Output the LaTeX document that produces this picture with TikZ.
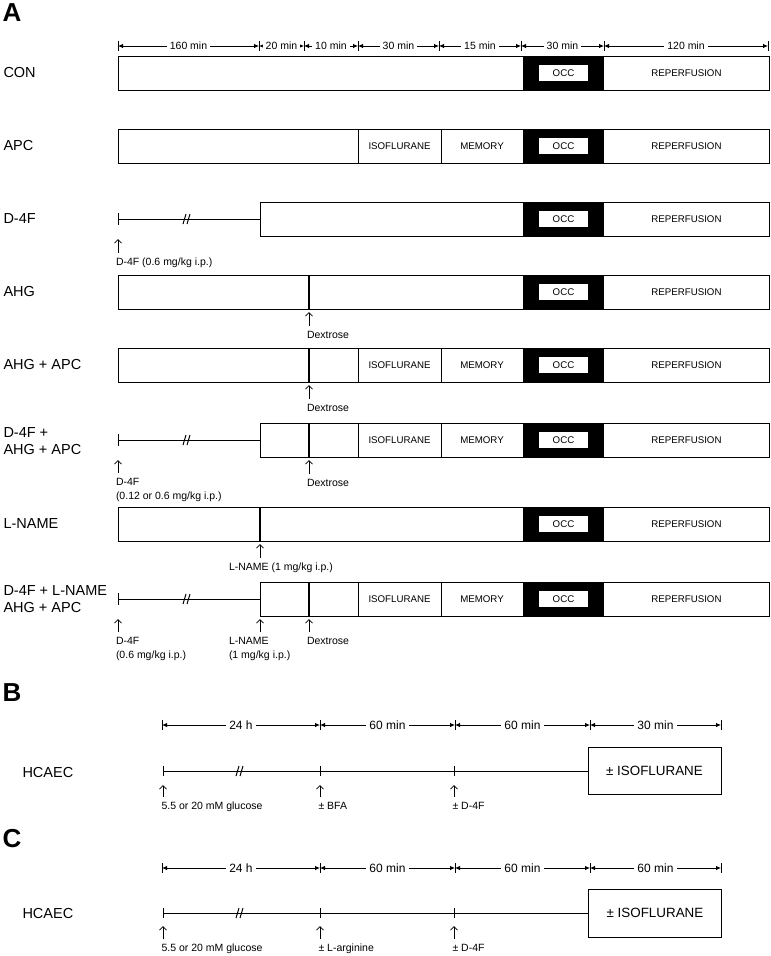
\documentclass[tikz,border=0pt]{standalone}
\usepackage{fontspec}
\setmainfont{Liberation Sans}
\usetikzlibrary{arrows.meta}

\begin{document}
\begin{tikzpicture}[x=1pt,y=-1pt,line width=1pt,
  panel/.style={anchor=west,inner sep=0pt,font=\bfseries\fontsize{26}{26}\selectfont},
  group/.style={anchor=west,align=left,inner sep=0pt,font=\fontsize{14.5}{17}\selectfont},
  phase/.style={inner sep=0pt,font=\fontsize{9.7}{11}\selectfont},
  occ/.style={phase,fill=white,minimum width=49pt,minimum height=15.5pt},
  note/.style={anchor=north west,align=left,inner sep=0pt,outer sep=2pt,font=\fontsize{10.5}{14}\selectfont},
  given/.style={-{Straight Barb[length=3.5pt,width=7pt]},line width=0.8pt,shorten <=3pt},
  span/.style={{Latex[length=5pt,width=4.5pt]}-{Latex[length=5pt,width=4.5pt]},line width=0.8pt},
  spantext/.style={fill=white,inner sep=3pt,font=\fontsize{10.5}{12}\selectfont},
  bigspan/.style={spantext,font=\fontsize{12}{14}\selectfont}]
  \useasboundingbox (0,0) rectangle (771,956);

  % panel A
  \node[panel] (A) at (2,13) {A};
  \foreach \a/\b/\t [count=\i] in {118/259/160 min,259/304/20 min,304/358/10 min,358/439/30 min,
      439/521/15 min,521/604/30 min,604/768/120 min}
    \draw[span] (\a,46) -- node[spantext] (dA\i) {\t} (\b,46);
  \foreach \x in {118,259,304,358,439,521,604,768}
    \draw[line width=0.8pt] (\x,41) -- (\x,51);

  \foreach \t [count=\i] in {56,129,202,275,348,423,507,582} {
    \fill (523,\t) rectangle (604,\t+34);
    \node[occ] (occ\i) at (563.5,\t+17) {OCC};
    \node[phase] (rep\i) at (686.5,\t+17) {REPERFUSION};
  }
  \foreach \t in {56,129,275,348,507}
    \draw (118,\t) rectangle (769,\t+34);
  \foreach \t in {202,423,582} {
    \draw (260,\t) rectangle (769,\t+34);
    \draw (118,\t+17) -- (260,\t+17);
    \draw (118,\t+11) -- (118,\t+23);
    \draw (183,\t+22) -- (186,\t+12) (187,\t+22) -- (190,\t+12);
  }
  \foreach \t [count=\i] in {129,348,423,582} {
    \draw (358,\t) -- (358,\t+34) (441,\t) -- (441,\t+34);
    \node[phase] (iso\i) at (399.5,\t+17) {ISOFLURANE};
    \node[phase] (mem\i) at (482,\t+17) {MEMORY};
  }
  \foreach \t in {275,348,423,582}
    \draw[line width=1.2pt] (309,\t) -- (309,\t+34);
  \draw[line width=1.2pt] (260,507) -- (260,541);

  \node[group] (con) at (3,73) {CON};
  \node[group] (apc) at (3,146) {APC};
  \node[group] (dfour) at (3,219) {D-4F};
  \node[group] (ahg) at (3,292) {AHG};
  \node[group] (ahgapc) at (3,365) {AHG + APC};
  \node[group] (dfourahg) at (3,441) {D-4F +\\AHG + APC};
  \node[group] (lname) at (3,524) {L-NAME};
  \node[group] (all) at (3,599) {D-4F + L-NAME\\AHG + APC};

  % doses
  \coordinate (g3) at (118,239);
  \node[note] (n3) at (114,256) {D-4F (0.6 mg/kg i.p.)};
  \draw[given] (n3.north -| g3) -- (g3);
  \coordinate (g4) at (309,312);
  \node[note] (n4) at (305,329) {Dextrose};
  \draw[given] (n4.north -| g4) -- (g4);
  \coordinate (g5) at (309,385);
  \node[note] (n5) at (305,402) {Dextrose};
  \draw[given] (n5.north -| g5) -- (g5);
  \coordinate (g6a) at (118,460);
  \node[note] (n6a) at (114,476) {D-4F\\(0.12 or 0.6 mg/kg i.p.)};
  \draw[given] (n6a.north -| g6a) -- (g6a);
  \coordinate (g6b) at (309,460);
  \node[note] (n6b) at (305,477) {Dextrose};
  \draw[given] (n6b.north -| g6b) -- (g6b);
  \coordinate (g7) at (260,544);
  \node[note] (n7) at (227,561) {L-NAME (1 mg/kg i.p.)};
  \draw[given] (n7.north -| g7) -- (g7);
  \coordinate (g8a) at (118,619);
  \node[note] (n8a) at (114,635) {D-4F\\(0.6 mg/kg i.p.)};
  \draw[given] (n8a.north -| g8a) -- (g8a);
  \coordinate (g8b) at (260,619);
  \node[note] (n8b) at (227,635) {L-NAME\\(1 mg/kg i.p.)};
  \draw[given] (n8b.north -| g8b) -- (g8b);
  \coordinate (g8c) at (309,619);
  \node[note] (n8c) at (305,635) {Dextrose};
  \draw[given] (n8c.north -| g8c) -- (g8c);

  % panel B
  \node[panel] (B) at (2,693) {B};
  \foreach \a/\b/\t [count=\i] in {162/320/24 h,320/455/60 min,455/590/60 min,590/721/30 min}
    \draw[span] (\a,725) -- node[bigspan] (dB\i) {\t} (\b,725);
  \foreach \x in {162,320,455,590,721}
    \draw[line width=0.8pt] (\x,720) -- (\x,730);
  \node[group] (hcaecB) at (22,772) {HCAEC};
  \node[draw,minimum width=133pt,minimum height=47pt,font=\fontsize{13.4}{15}\selectfont] (isoB) at (654.5,771) {± ISOFLURANE};
  \draw (163,771) -- (isoB.west);
  \foreach \x in {163,320,454}
    \draw (\x,766) -- (\x,776);
  \draw (236,776) -- (239,766) (240,776) -- (243,766);
  \coordinate (gB1) at (163,785);
  \node[note] (nB1) at (159.5,800) {5.5 or 20 mM glucose};
  \draw[given] (nB1.north -| gB1) -- (gB1);
  \coordinate (gB2) at (320,785);
  \node[note] (nB2) at (316.5,800) {± BFA};
  \draw[given] (nB2.north -| gB2) -- (gB2);
  \coordinate (gB3) at (454,785);
  \node[note] (nB3) at (450.5,800) {± D-4F};
  \draw[given] (nB3.north -| gB3) -- (gB3);

  % panel C
  \node[panel] (C) at (2,839) {C};
  \foreach \a/\b/\t [count=\i] in {162/320/24 h,320/455/60 min,455/590/60 min,590/721/60 min}
    \draw[span] (\a,868) -- node[bigspan] (dC\i) {\t} (\b,868);
  \foreach \x in {162,320,455,590,721}
    \draw[line width=0.8pt] (\x,863) -- (\x,873);
  \node[group] (hcaecC) at (22,913) {HCAEC};
  \node[draw,minimum width=133pt,minimum height=48pt,font=\fontsize{13.4}{15}\selectfont] (isoC) at (655,913) {± ISOFLURANE};
  \draw (163,913) -- (isoC.west);
  \foreach \x in {163,320,454}
    \draw (\x,908) -- (\x,918);
  \draw (236,918) -- (239,908) (240,918) -- (243,908);
  \coordinate (gC1) at (163,926);
  \node[note] (nC1) at (159.5,942) {5.5 or 20 mM glucose};
  \draw[given] (nC1.north -| gC1) -- (gC1);
  \coordinate (gC2) at (320,926);
  \node[note] (nC2) at (316.5,942) {± L-arginine};
  \draw[given] (nC2.north -| gC2) -- (gC2);
  \coordinate (gC3) at (454,926);
  \node[note] (nC3) at (450.5,942) {± D-4F};
  \draw[given] (nC3.north -| gC3) -- (gC3);
\end{tikzpicture}
\end{document}
